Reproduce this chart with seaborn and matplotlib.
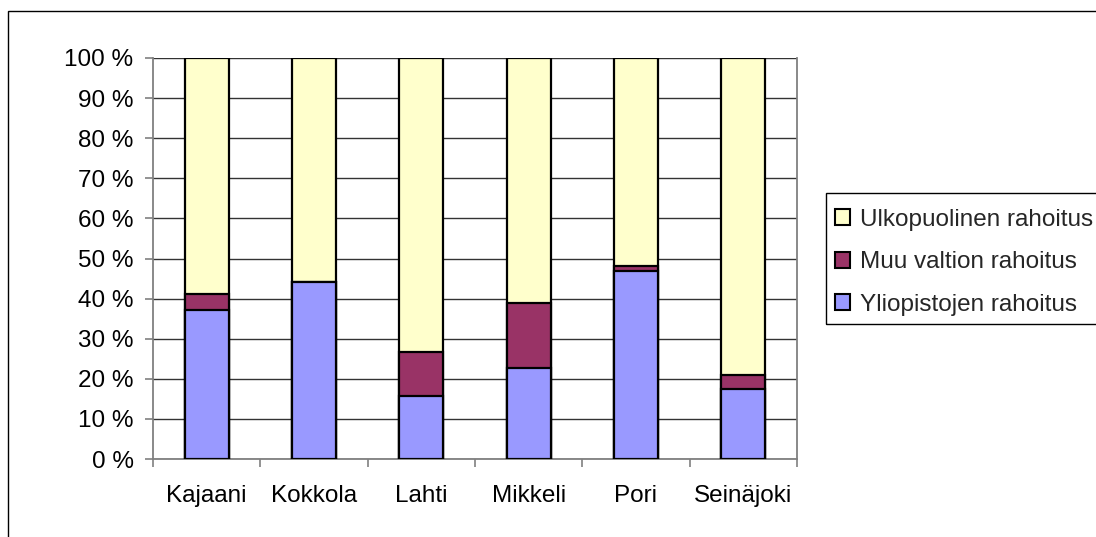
import numpy as np
import seaborn as sns
import matplotlib.pyplot as plt
from matplotlib.patches import Patch, Rectangle
from matplotlib.ticker import FixedLocator

# Share of funding per unit (percent)
cities = ["Kajaani", "Kokkola", "Lahti", "Mikkeli", "Pori", "Seinäjoki"]
yliopistot = [37.1, 44.1, 15.8, 22.7, 46.8, 17.4]
muu_valtio = [4.1, 0.0, 11.0, 16.1, 1.3, 3.6]
ulkopuolinen = [58.8, 55.9, 73.2, 61.2, 51.9, 79.0]

series_names = ["Yliopistojen rahoitus", "Muu valtion rahoitus",
                "Ulkopuolinen rahoitus"]
colors = ["#9999FF", "#993366", "#FFFFCC"]

sns.set_theme(style="white")
plt.rcParams["font.family"] = ["Liberation Sans", "DejaVu Sans"]

W, H = 1096, 537
fig = plt.figure(figsize=(W / 100, H / 100), dpi=100)
ax = fig.add_axes([153 / W, 1 - 459 / H, (797 - 153) / W, (459 - 58) / H])

# stacked bars: draw cumulative totals from the top layer down
stack = np.cumsum([yliopistot, muu_valtio, ulkopuolinen], axis=0)
for level in (2, 1, 0):
    sns.barplot(x=cities, y=stack[level], color=colors[level], width=0.41,
                edgecolor="black", linewidth=1.6, saturation=1, ax=ax,
                zorder=3)

ax.set_xlim(-0.5, len(cities) - 0.5)
ax.set_ylim(0, 100)
ax.set_yticks(range(0, 101, 10))
ax.set_yticklabels([f"{v} %" for v in range(0, 101, 10)])
ax.yaxis.grid(True, color="#333333", linewidth=1.0, zorder=0)
ax.set_axisbelow(True)

ax.xaxis.set_minor_locator(FixedLocator(np.arange(-0.5, len(cities), 1)))
ax.tick_params(axis="x", which="major", length=0, pad=19, labelsize=17.5,
               colors="black")
ax.tick_params(axis="x", which="minor", length=6, width=1.2, color="#808080",
               direction="out", bottom=True)
ax.tick_params(axis="y", length=6, width=1.2, color="#808080", pad=8,
               labelsize=17.5, left=True, labelcolor="black")
ax.set_xlabel("")
ax.set_ylabel("")

for side in ("left", "bottom", "right"):
    ax.spines[side].set_visible(True)
    ax.spines[side].set_color("#808080")
    ax.spines[side].set_linewidth(1.3)
ax.spines["top"].set_visible(False)

handles = [Patch(facecolor=colors[i], edgecolor="black", linewidth=1.5,
                 label=series_names[i]) for i in (2, 1, 0)]
leg = fig.legend(handles=handles, loc="upper left",
                 bbox_to_anchor=(826 / W, 1 - 200 / H), fontsize=17.5,
                 frameon=False, borderaxespad=0,
                 handlelength=0.65, handleheight=0.65, handletextpad=0.4,
                 labelspacing=0.85, borderpad=0.35)
# legend frame runs off the right edge of the picture
fig.patches.append(Rectangle((826 / W, 1 - 324 / H), 0.3, 131 / H,
                             transform=fig.transFigure, fill=False,
                             edgecolor="black", linewidth=1.0))

# outer chart frame (only left and top edges visible in the image)
fig.patches.append(Rectangle((8 / W, -0.1), 1.2, 1 - 11 / H + 0.1,
                             transform=fig.transFigure, fill=False,
                             edgecolor="black", linewidth=1.0))

fig.savefig("out.png", dpi=100)
